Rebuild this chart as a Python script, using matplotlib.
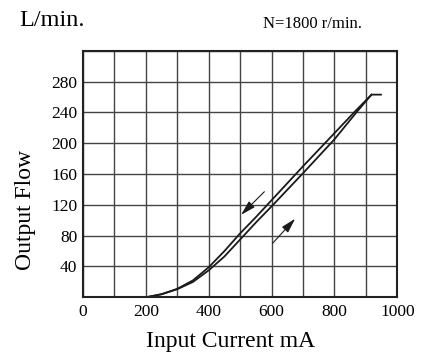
import matplotlib
matplotlib.use("Agg")
import matplotlib.pyplot as plt

# Data
cur_down = [200, 250, 300, 350, 400, 450, 500, 550, 600, 700, 800, 865, 918, 948]
flow_down = [0, 4, 11, 22, 39, 60, 83, 104, 126, 170, 213, 241, 263, 263]
cur_up = [200, 250, 300, 350, 400, 450, 500, 550, 600, 700, 800, 870, 918]
flow_up = [0, 4, 10.5, 20, 35, 53, 75, 97, 118, 161, 205, 240, 263]

x_ticks = [0, 200, 400, 600, 800, 1000]
y_ticks = [40, 80, 120, 160, 200, 240, 280]

arrow_down = ((577, 137), (503, 107))
arrow_up = ((603, 70), (675, 102))

plt.rcParams['font.family'] = ['Liberation Serif', 'DejaVu Serif']

W, H = 429, 353
fig = plt.figure(figsize=(W/100, H/100), dpi=100)
ax = fig.add_axes([83/W, 1-297.3/H, (397.3-83)/W, (297.3-50.7)/H])

ax.set_xlim(0, 1000)
ax.set_ylim(0, 320)
xt = list(range(0, 1001, 100))
yt = list(range(0, 321, 40))
ax.set_xticks(xt)
ax.set_yticks(yt)
ax.set_xticklabels([str(v) if v in x_ticks else '' for v in xt])
ax.set_yticklabels([str(v) if v in y_ticks else '' for v in yt])
ax.grid(True, color='#444444', linewidth=1.0)
ax.tick_params(which='both', length=0, labelsize=12.5)
ax.tick_params(axis='x', pad=5)
ax.tick_params(axis='y', pad=4)
for s in ax.spines.values():
    s.set_linewidth(1.5)
    s.set_color('#222222')

ax.plot(cur_down, flow_down, color='#1a1a1a', linewidth=1.3, solid_joinstyle='round')
ax.plot(cur_up, flow_up, color='#1a1a1a', linewidth=1.3, solid_joinstyle='round')

for (s, e) in (arrow_down, arrow_up):
    ax.annotate('', xy=e, xytext=s,
                arrowprops=dict(arrowstyle='-|>,head_length=0.9,head_width=0.25',
                                color='#1a1a1a', linewidth=0.8,
                                shrinkA=0, shrinkB=0))

fig.text((145+317)/2/W, 1-346.5/H, 'Input Current mA', fontsize=17,
         ha='center', va='baseline')
fig.text(36.5/W, 1-210/H, 'Output Flow', fontsize=17, rotation=90,
         ha='right', va='center')

fig.text(19/W, 1-26/H, 'L/min.', fontsize=17.5, ha='left', va='baseline')
fig.text(263/W, 1-27.7/H, 'N=1800 r/min.', fontsize=12, ha='left', va='baseline')

fig.savefig('out.png', dpi=100)
